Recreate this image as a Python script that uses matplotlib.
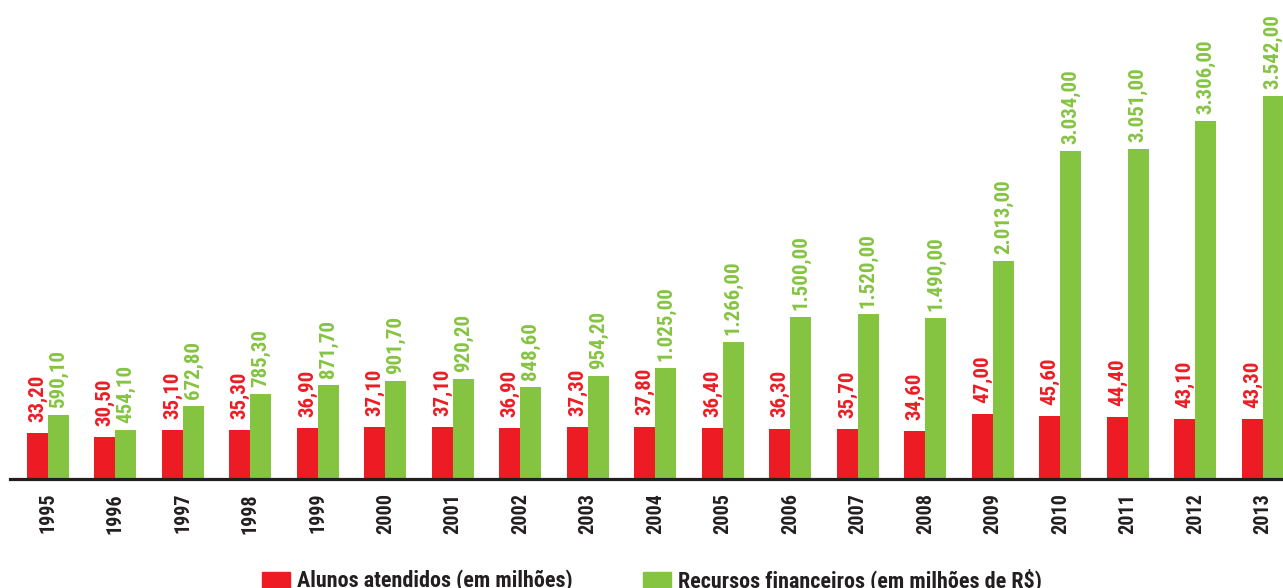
import matplotlib
matplotlib.use("Agg")
import matplotlib.pyplot as plt
from matplotlib import font_manager as fm
from matplotlib.patches import Rectangle

years = [str(y) for y in range(1995, 2014)]
alunos = [33.2, 30.5, 35.1, 35.3, 36.9, 37.1, 37.1, 36.9, 37.3, 37.8,
          36.4, 36.3, 35.7, 34.6, 47.0, 45.6, 44.4, 43.1, 43.3]
recursos = [590.1, 454.1, 672.8, 785.3, 871.7, 901.7, 920.2, 848.6, 954.2, 1025.0,
            1266.0, 1500.0, 1520.0, 1490.0, 2013.0, 3034.0, 3051.0, 3306.0, 3542.0]

RED = "#ED1C24"
GREEN = "#85C441"
INK = "#231F20"
W, H = 1283, 588


def br(v):
    # brazilian number format: 3.542,00
    s = f"{v:,.2f}"
    return s.replace(",", "X").replace(".", ",").replace("X", ".")


# condensed bold face, close to Helvetica Condensed Bold
fp = None
for f in fm.fontManager.ttflist:
    if f.fname.endswith("RobotoCondensed-Bold.ttf"):
        fp = fm.FontProperties(fname=f.fname)
        break
if fp is None:
    fp = fm.FontProperties(family="DejaVu Sans", weight="bold", stretch="condensed")


def font(size):
    p = fp.copy()
    p.set_size(size)
    return p


fig = plt.figure(figsize=(W / 100, H / 100), dpi=100)
ax = fig.add_axes([10 / W, (H - 479) / H, (W - 10) / W, 479 / H])
ax2 = ax.twinx()
ax.set_zorder(2)
ax.patch.set_visible(False)

x = list(range(len(years)))
bw = 0.311
ax2.bar([i - bw / 2 for i in x], alunos, width=bw, color=RED)
ax.bar([i + bw / 2 for i in x], recursos, width=bw, color=GREEN)

for i, v in enumerate(alunos):
    ax2.annotate(br(v), (i - bw / 2, v), xytext=(0, 8), textcoords="offset points",
                 rotation=90, ha="center", va="bottom", color=RED,
                 fontproperties=font(15))
for i, v in enumerate(recursos):
    ax.annotate(br(v), (i + bw / 2, v), xytext=(0, 5), textcoords="offset points",
                rotation=90, ha="center", va="bottom", color=GREEN,
                fontproperties=font(15), annotation_clip=False)

ax.set_xlim(-0.563, 18.30)
ax.set_ylim(0, 9.24 * 479)
ax2.set_ylim(0, 0.72 * 479)

for a in (ax, ax2):
    for s in ("top", "left", "right"):
        a.spines[s].set_visible(False)
    a.set_yticks([])
ax2.spines["bottom"].set_visible(False)
ax.spines["bottom"].set_linewidth(2.3)
ax.spines["bottom"].set_color(INK)

ax.set_xticks(x)
ax.set_xticklabels(years, rotation=90, color=INK, fontproperties=font(14.5))
ax.tick_params(axis="x", length=0, pad=10)

# legend along the bottom edge
for px, color, label in [(262, RED, "Alunos atendidos (em milhões)"),
                         (643, GREEN, "Recursos financeiros (em milhões de R$)")]:
    fig.add_artist(Rectangle((px / W, 0), 28 / W, 16 / H, transform=fig.transFigure,
                             color=color))
    fig.text((px + 35) / W, 1 / H, label, va="baseline", ha="left", color=INK,
             fontproperties=font(15.9))

fig.savefig("out.png", dpi=100)
